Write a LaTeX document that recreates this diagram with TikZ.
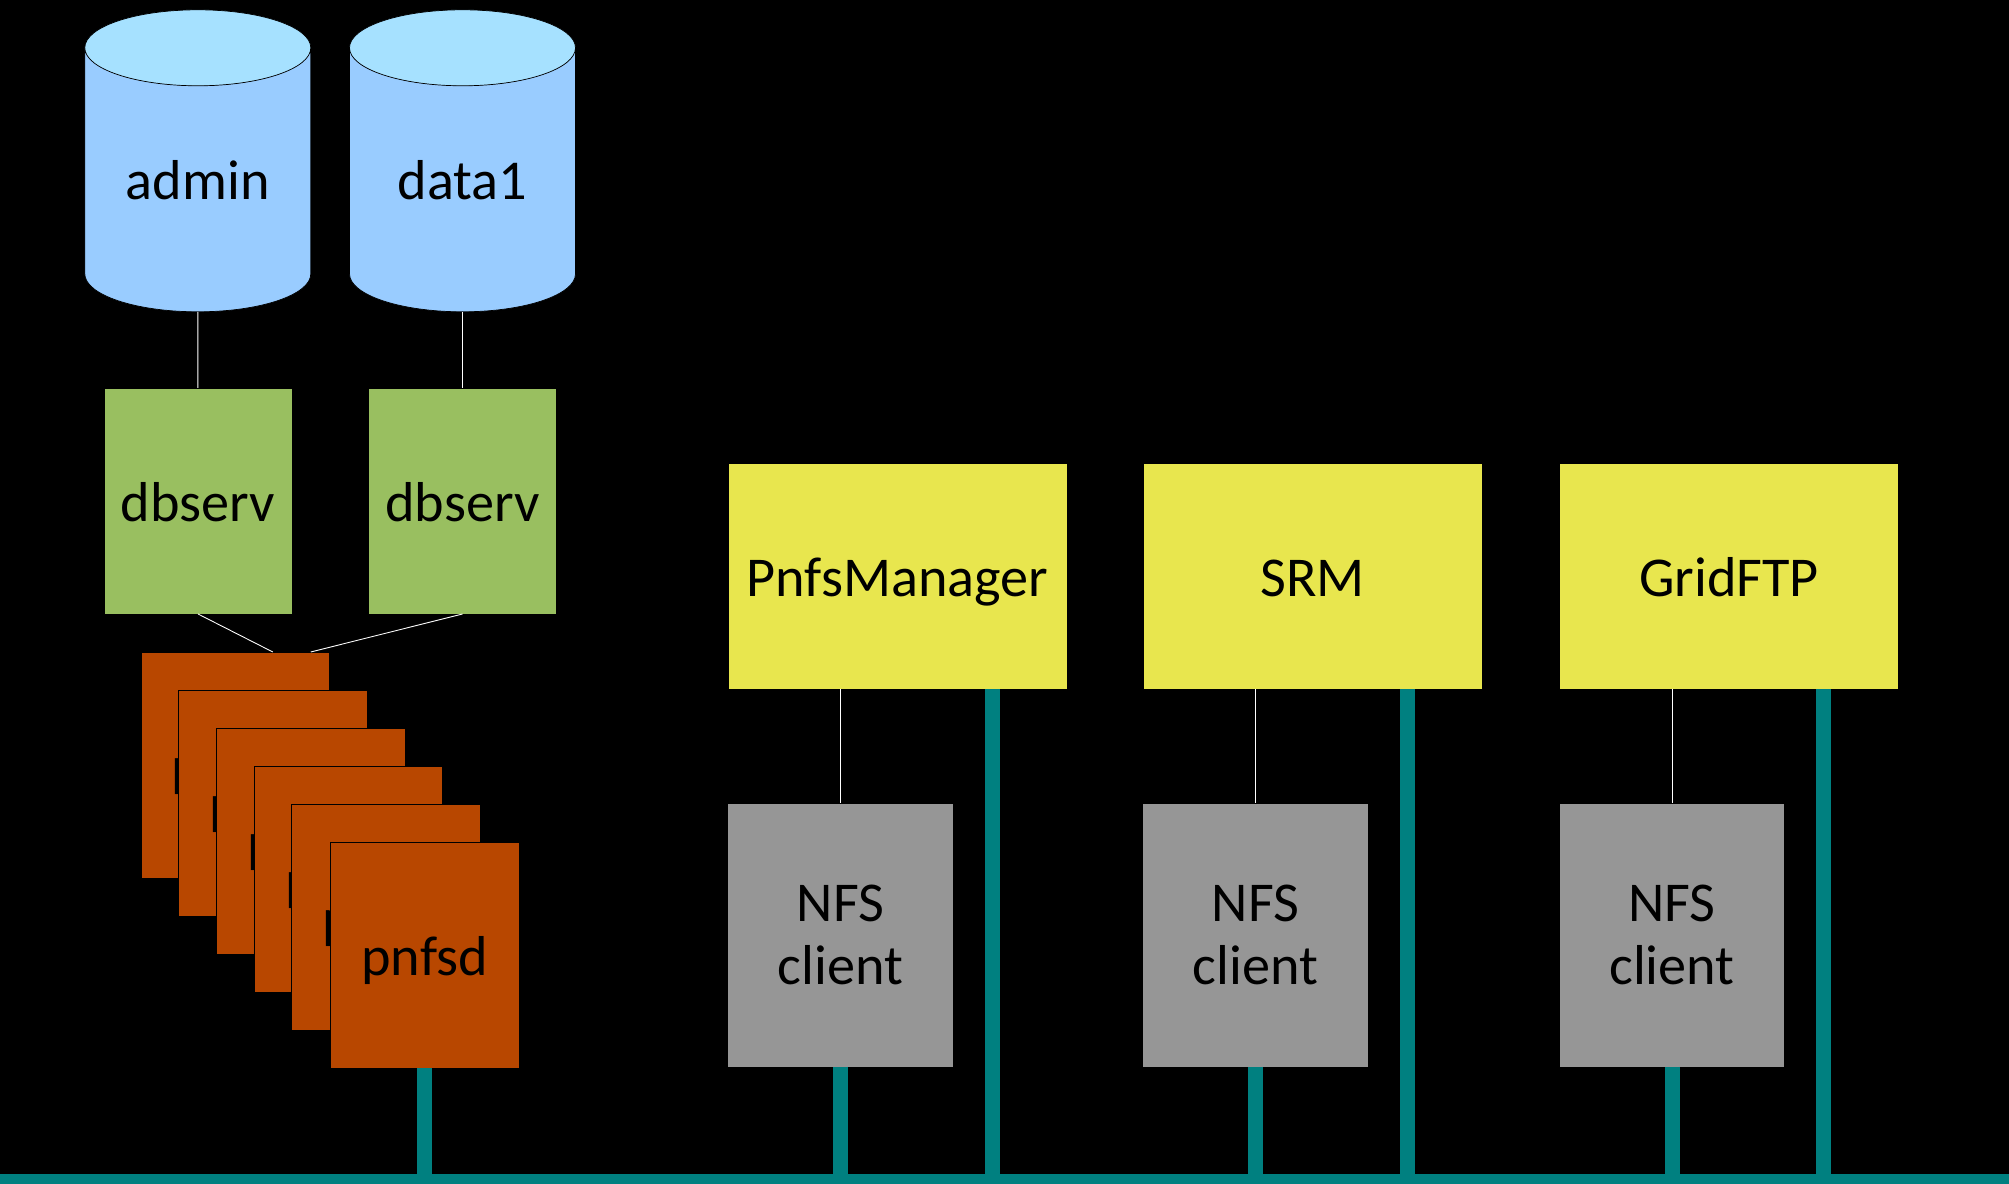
\documentclass[tikz,border=0pt]{standalone}
\usepackage{fontspec}
\setmainfont{Carlito}
\usetikzlibrary{shapes.geometric}
\definecolor{dbblue}{HTML}{99CCFF}
\definecolor{dbtop}{HTML}{A6E1FF}
\definecolor{servgreen}{HTML}{99BF60}
\definecolor{daemonred}{HTML}{B84700}
\definecolor{doorgold}{HTML}{E8E64E}
\definecolor{clientgrey}{HTML}{969696}
\definecolor{netteal}{HTML}{008080}
\tikzset{
	box/.style={rectangle, draw=black, line width=0.2pt, inner sep=0pt, outer sep=0pt, text=black, font=\fontsize{16}{18}\selectfont, align=center},
	db/.style={cylinder, shape border rotate=90, shape aspect=0.475, draw=black, line width=0.2pt, cylinder uses custom fill, cylinder body fill=dbblue, cylinder end fill=dbtop, minimum width=2.26cm, minimum height=3.02cm, inner sep=0pt, outer sep=0pt, text=black, font=\fontsize{16}{18}\selectfont, text width=1.6cm, align=center, text height=11pt, text depth=0pt},
	serv/.style={box, fill=servgreen, minimum width=1.88cm, minimum height=2.26cm, text height=14pt, text depth=2.4pt},
	daemon/.style={box, fill=daemonred, minimum width=1.886cm, minimum height=2.26cm, text height=14pt, text depth=2.4pt},
	door/.style={box, fill=doorgold, minimum width=3.39cm, minimum height=2.26cm, text height=14pt, text depth=2.4pt},
	client/.style={box, fill=clientgrey, minimum width=2.255cm, minimum height=2.64cm},
	net/.style={draw=netteal, line width=0.15cm},
	thinline/.style={draw=white, line width=0.25pt}
}
\begin{document}
\begin{tikzpicture}
	\useasboundingbox (0,0) rectangle (20.09,11.84);
	\fill [black] (0,0) rectangle (20.09,11.84);

	\node at (1.978,10.04) [db] (admin) {admin};
	\node at (4.625,10.04) [db] (data1) {data1};
	\node at (1.98,6.83) [serv] (dbserv1) {dbserv};
	\node at (4.625,6.83) [serv] (dbserv2) {dbserv};

	\node at (2.353,4.19) [daemon] (pnfsd1) {pnfsd};
	\node at (2.73,3.81) [daemon] (pnfsd2) {pnfsd};
	\node at (3.11,3.43) [daemon] (pnfsd3) {pnfsd};
	\node at (3.485,3.05) [daemon] (pnfsd4) {pnfsd};
	\node at (3.86,2.67) [daemon] (pnfsd5) {pnfsd};
	\node at (4.248,2.29) [daemon] (pnfsd6) {pnfsd};

	\node at (8.975,6.075) [door] (manager) {PnfsManager};
	\node at (13.125,6.075) [door] (srm) {SRM};
	\node at (17.29,6.075) [door] (gridftp) {GridFTP};
	\node at (8.405,2.49) [client] (nfs1) {NFS\\client};
	\node at (12.555,2.49) [client] (nfs2) {NFS\\client};
	\node at (16.72,2.49) [client] (nfs3) {NFS\\client};

	\node at (10.045,0.05) [rectangle, fill=netteal, inner sep=0pt, outer sep=0pt, minimum width=20.09cm, minimum height=0.1cm] (bus) {};

	\draw [thinline] (admin) -- (dbserv1);
	\draw [thinline] (data1) -- (dbserv2);
	\draw [thinline] (dbserv1.south) -- ([xshift=0.375cm]pnfsd1.north);
	\draw [thinline] (dbserv2.south) -- ([xshift=0.755cm]pnfsd1.north);
	\draw [thinline] (nfs1.north) -- (nfs1.north |- manager.south);
	\draw [thinline] (nfs2.north) -- (nfs2.north |- srm.south);
	\draw [thinline] (nfs3.north) -- (nfs3.north |- gridftp.south);

	\draw [net] (pnfsd6.south) -- (pnfsd6.south |- bus.north);
	\draw [net] (nfs1.south) -- (nfs1.south |- bus.north);
	\draw [net] (nfs2.south) -- (nfs2.south |- bus.north);
	\draw [net] (nfs3.south) -- (nfs3.south |- bus.north);
	\draw [net] ([xshift=0.945cm]manager.south) -- ([xshift=0.945cm]manager.south |- bus.north);
	\draw [net] ([xshift=0.945cm]srm.south) -- ([xshift=0.945cm]srm.south |- bus.north);
	\draw [net] ([xshift=0.945cm]gridftp.south) -- ([xshift=0.945cm]gridftp.south |- bus.north);
\end{tikzpicture}
\end{document}
